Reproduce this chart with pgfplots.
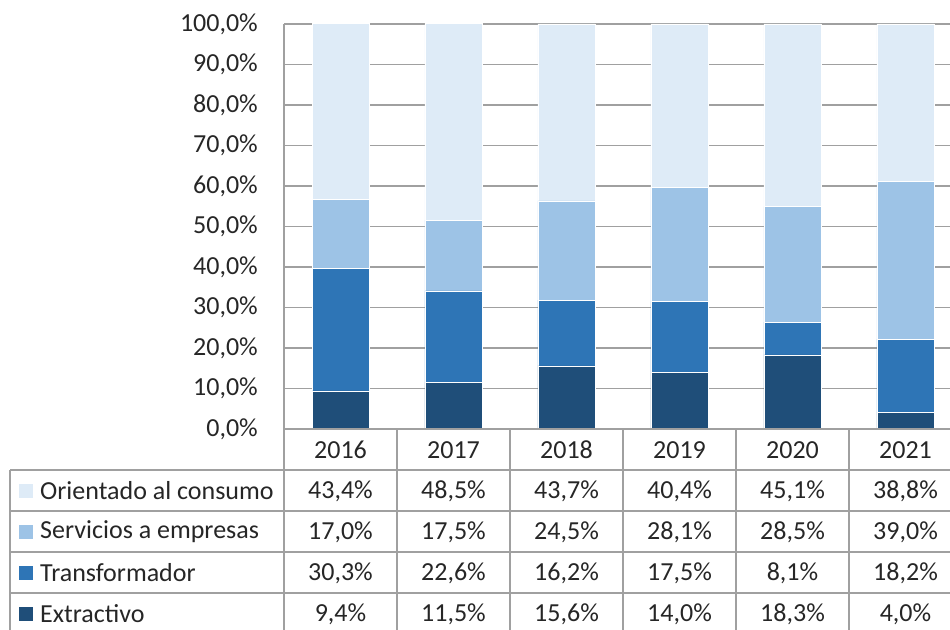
\documentclass[border=0pt]{standalone}
\usepackage{pgfplots}
\pgfplotsset{compat=1.18}
\usepackage{fontspec}
\setmainfont{Carlito}
\definecolor{cCons}{HTML}{DEEBF7}
\definecolor{cServ}{HTML}{9DC3E6}
\definecolor{cTrans}{HTML}{2E75B6}
\definecolor{cExt}{HTML}{1F4E79}
\definecolor{cGrid}{HTML}{A0A0A0}
\definecolor{cText}{HTML}{262626}
\begin{document}
\begin{tikzpicture}[x=1pt,y=1pt,font=\fontsize{26}{30}\selectfont,text=cText]
\path[use as bounding box] (0,0) rectangle (950,629);
\begin{axis}[at={(284pt,200pt)}, anchor=south west, scale only axis,
  width=666pt, height=405pt,
  xmin=-0.5, xmax=5.394, ymin=0, ymax=100,
  ybar stacked, bar width=57pt,
  xtick=\empty, ytick={0,10,...,100},
  axis line style={draw=none},
  ymajorgrids, major grid style={cGrid, line width=1.8pt},
  major tick length=0pt,
  /pgf/number format/assume math mode=true,
  yticklabel={\pgfmathprintnumber[fixed,fixed zerofill,precision=1,use comma]{\tick}\%},
  yticklabel style={font=\fontsize{26}{30}\selectfont, text=cText, inner sep=0pt, xshift=-26pt},
  clip=false,
  every axis plot/.append style={draw=white, line width=0.6pt},
]
\addplot[fill=cExt] coordinates {(0,9.4) (1,11.5) (2,15.6) (3,14.0) (4,18.3) (5,4.0)};
\addplot[fill=cTrans] coordinates {(0,30.3) (1,22.6) (2,16.2) (3,17.5) (4,8.1) (5,18.2)};
\addplot[fill=cServ] coordinates {(0,17.0) (1,17.5) (2,24.5) (3,28.1) (4,28.5) (5,39.0)};
\addplot[fill=cCons] coordinates {(0,43.4) (1,48.5) (2,43.7) (3,40.4) (4,45.1) (5,38.8)};
\draw[cGrid, line width=2.5pt] (axis cs:-0.5,0) -- (axis cs:-0.5,100);
\end{axis}
% data table
\begin{scope}[cGrid, line width=2.5pt]
\draw (284,200) -- (950,200);
\foreach \yy in {159,118,77,36} \draw (10,\yy) -- (950,\yy);
\draw (10,159) -- (10,-5);
\foreach \xx in {284,397,510,623,736,849} \draw (\xx,200) -- (\xx,-5);
\end{scope}
\foreach \yr [count=\i from 0] in {2016,2017,2018,2019,2020,2021}
  \node at ({340.5+113*\i},179) {\yr};
\foreach \nm/\cc/\yy in {Orientado al consumo/cCons/138, Servicios a empresas/cServ/97, Transformador/cTrans/56, Extractivo/cExt/15}{
  \fill[\cc] (19,\yy-7) rectangle (33,\yy+7);
  \node[anchor=west, inner sep=0pt] at (40,\yy) {\nm};
}
\foreach \row/\yy in {{{43,4\%},{48,5\%},{43,7\%},{40,4\%},{45,1\%},{38,8\%}}/138,
                      {{17,0\%},{17,5\%},{24,5\%},{28,1\%},{28,5\%},{39,0\%}}/97,
                      {{30,3\%},{22,6\%},{16,2\%},{17,5\%},{8,1\%},{18,2\%}}/56,
                      {{9,4\%},{11,5\%},{15,6\%},{14,0\%},{18,3\%},{4,0\%}}/15}{
  \foreach \v [count=\i from 0] in \row
    \node at ({340.5+113*\i},\yy) {\v};
}
\end{tikzpicture}
\end{document}
